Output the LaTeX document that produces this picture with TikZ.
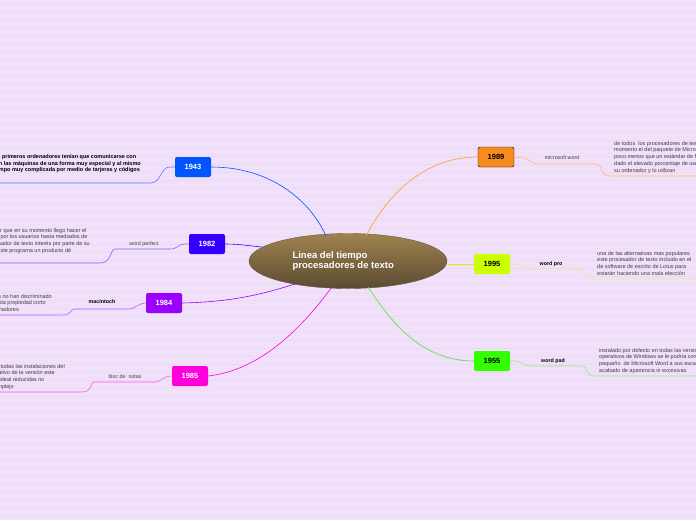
\documentclass[tikz,border=0pt]{standalone}
\usepackage{fontspec}
\setmainfont{Liberation Sans}
\usetikzlibrary{shapes.geometric}
\definecolor{ctop}{RGB}{160,130,80}
\definecolor{cbot}{RGB}{90,75,50}
\begin{document}
\begin{tikzpicture}[x=1pt,y=-1pt,
 yr/.style={draw=none,rounded corners=2pt,minimum width=36pt,minimum height=20pt,font=\bfseries\fontsize{7.5}{8}\selectfont,text=white},
 lab/.style={font=\fontsize{5.3}{6}\selectfont,text=black!75},
 blab/.style={font=\bfseries\fontsize{5.3}{6}\selectfont},
 txt/.style={font=\fontsize{5.5}{6.8}\selectfont,text=black!75,align=left,inner sep=0pt},
 br/.style={line width=0.6pt}]
\fill[fill={rgb,255:red,240;green,224;blue,250}] (0,0) rectangle (696,520);
\useasboundingbox (0,0) rectangle (696,520);
\foreach \y in {4,12,...,520} \draw[color={rgb,255:red,234;green,218;blue,246},line width=0.4pt] (0,\y) -- (696,\y);
\clip (0,0) rectangle (696,520);
% center
\node[ellipse,minimum width=198pt,minimum height=55pt,draw={rgb,255:red,110;green,90;blue,60},
 top color=ctop,bottom color=cbot,inner sep=0pt] (c) at (348,261) {};
\node[font=\bfseries\fontsize{9.5}{10}\selectfont,text=white,align=left,anchor=west] (ct) at (289,261) {Linea del tiempo\\procesadores de texto};
% year nodes
\node[yr,fill={rgb,255:red,0;green,85;blue,255}] (a) at (193,167) {1943};
\node[yr,fill={rgb,255:red,51;green,0;blue,255}] (b) at (207,244) {1982};
\node[yr,fill={rgb,255:red,153;green,0;blue,255}] (d) at (164,303) {1984};
\node[yr,fill={rgb,255:red,255;green,0;blue,221}] (e) at (190,376) {1985};
\node[yr,fill={rgb,255:red,247;green,140;blue,30},draw=black,text=black] (f) at (496,157) {1989};
\node[yr,fill={rgb,255:red,204;green,255;blue,0},text=black] (g) at (492,264) {1995};
\node[yr,fill={rgb,255:red,51;green,255;blue,0},text=black] (h) at (492,361) {1955};
% center links
\draw[br,color={rgb,255:red,0;green,85;blue,255}] (a.east) .. controls (270,167) and (310,200) .. (326,236);
\draw[br,color={rgb,255:red,51;green,0;blue,255}] (b.east) .. controls (240,244) and (250,246) .. (262,247);
\draw[br,color={rgb,255:red,153;green,0;blue,255}] (d.east) .. controls (230,302) and (260,295) .. (295,284);
\draw[br,color={rgb,255:red,255;green,0;blue,221}] (e.east) .. controls (260,370) and (300,330) .. (332,287);
\draw[br,color={rgb,255:red,247;green,160;blue,40}] (f.west) .. controls (420,157) and (385,200) .. (366,236);
\draw[br,color={rgb,255:red,220;green,240;blue,0}] (g.west) -- (448,264);
\draw[br,color={rgb,255:red,80;green,230;blue,40}] (h.west) .. controls (420,361) and (390,320) .. (368,287);
% branches left
\draw[br,color={rgb,255:red,90;green,120;blue,255}] (a.west) -- (170,167) .. controls (160,167) and (162,183) .. (150,183) -- (0,183);
\node[txt,font=\bfseries\fontsize{5.5}{6.8}\selectfont,text=black,anchor=north east] (at) at (141,154) {los primeros ordenadores tenían que comunicarse con\\con las máquinas de una forma muy especial y al mismo\\tiempo muy complicada por medio de tarjeras y códigos};
\node[lab] (bl) at (144,244) {word perfect};
\draw[br,color={rgb,255:red,130;green,100;blue,255}] (b.west) -- (185,244) .. controls (178,244) and (178,249) .. (170,249) -- (115,249) .. controls (110,249) and (112,263) .. (100,263) -- (0,263);
\node[txt,anchor=north east] (bt) at (90,228) {un procesador que en su momento llego hacer el\\más utilizado por los usuarios hasta mediados de\\los 90, procesador de texto interés por parte de su\\empresa de este programa un producto dé};
\node[blab] (dl) at (102,302) {macintoch};
\draw[br,color={rgb,255:red,190;green,90;blue,255}] (d.west) -- (146,303) .. controls (138,303) and (136,309) .. (128,309) -- (75,309) .. controls (70,309) and (72,315) .. (62,315) -- (0,315);
\node[txt,anchor=north east] (dt) at (52,294) {los usuarios no han discriminado\\el uso de esta propiedad corto\\de los ordenadores};
\node[lab] (el) at (125,377) {bloc de\ \ notas};
\draw[br,color={rgb,255:red,255;green,90;blue,230}] (e.west) -- (172,376) .. controls (162,376) and (162,382) .. (154,382) -- (94,382) .. controls (90,382) and (93,392) .. (82,392) -- (0,392);
\node[txt,anchor=north east] (et) at (65,364) {se incluye en todas las instalaciones del\\sistema operativo de la versión este\\de funciones ideal reducidas no\\encontrar complejo};
% right
\node[lab] (fl) at (562,158) {microsoft word};
\draw[br,color={rgb,255:red,255;green,190;blue,100}] (f.east) -- (522,158) .. controls (530,158) and (530,164) .. (540,164) -- (597,164) .. controls (602,164) and (600,176) .. (610,176) -- (696,176);
\node[txt,anchor=north west] (ft) at (614,141) {de todos\ \ los procesadores de texto del\\momento el del paquete de Microsoft es\\poco menos que un estándar de facto\\dado el elevado porcentaje de usuarios\\su ordenador y lo utilizan};
\node[blab] (gl) at (551,264) {word pro};
\draw[br,color={rgb,255:red,230;green,240;blue,140}] (g.east) -- (515,264) .. controls (522,264) and (522,269) .. (530,269) -- (580,269) .. controls (585,269) and (583,279) .. (592,279) -- (696,279);
\node[txt,anchor=north west] (gt) at (597,251) {una de las alternativas mas populares\\este procesador de texto incluido en el\\de software de escrito de Lotus para\\estarán haciendo una mala elección};
\node[blab] (hl) at (553,361) {word pad};
\draw[br,color={rgb,255:red,140;green,240;blue,120}] (h.east) -- (515,361) .. controls (522,361) and (522,366) .. (530,366) -- (582,366) .. controls (587,366) and (585,376) .. (594,376) -- (696,376);
\node[txt,anchor=north west] (ht) at (599,348) {instalado por defecto en todas las versiones\\operativos de Windows se le podría considerar\\pequeño\ \ de Microsoft Word a sus escasas\\acabado de apariencia ni excesivas};
\end{tikzpicture}
\end{document}
